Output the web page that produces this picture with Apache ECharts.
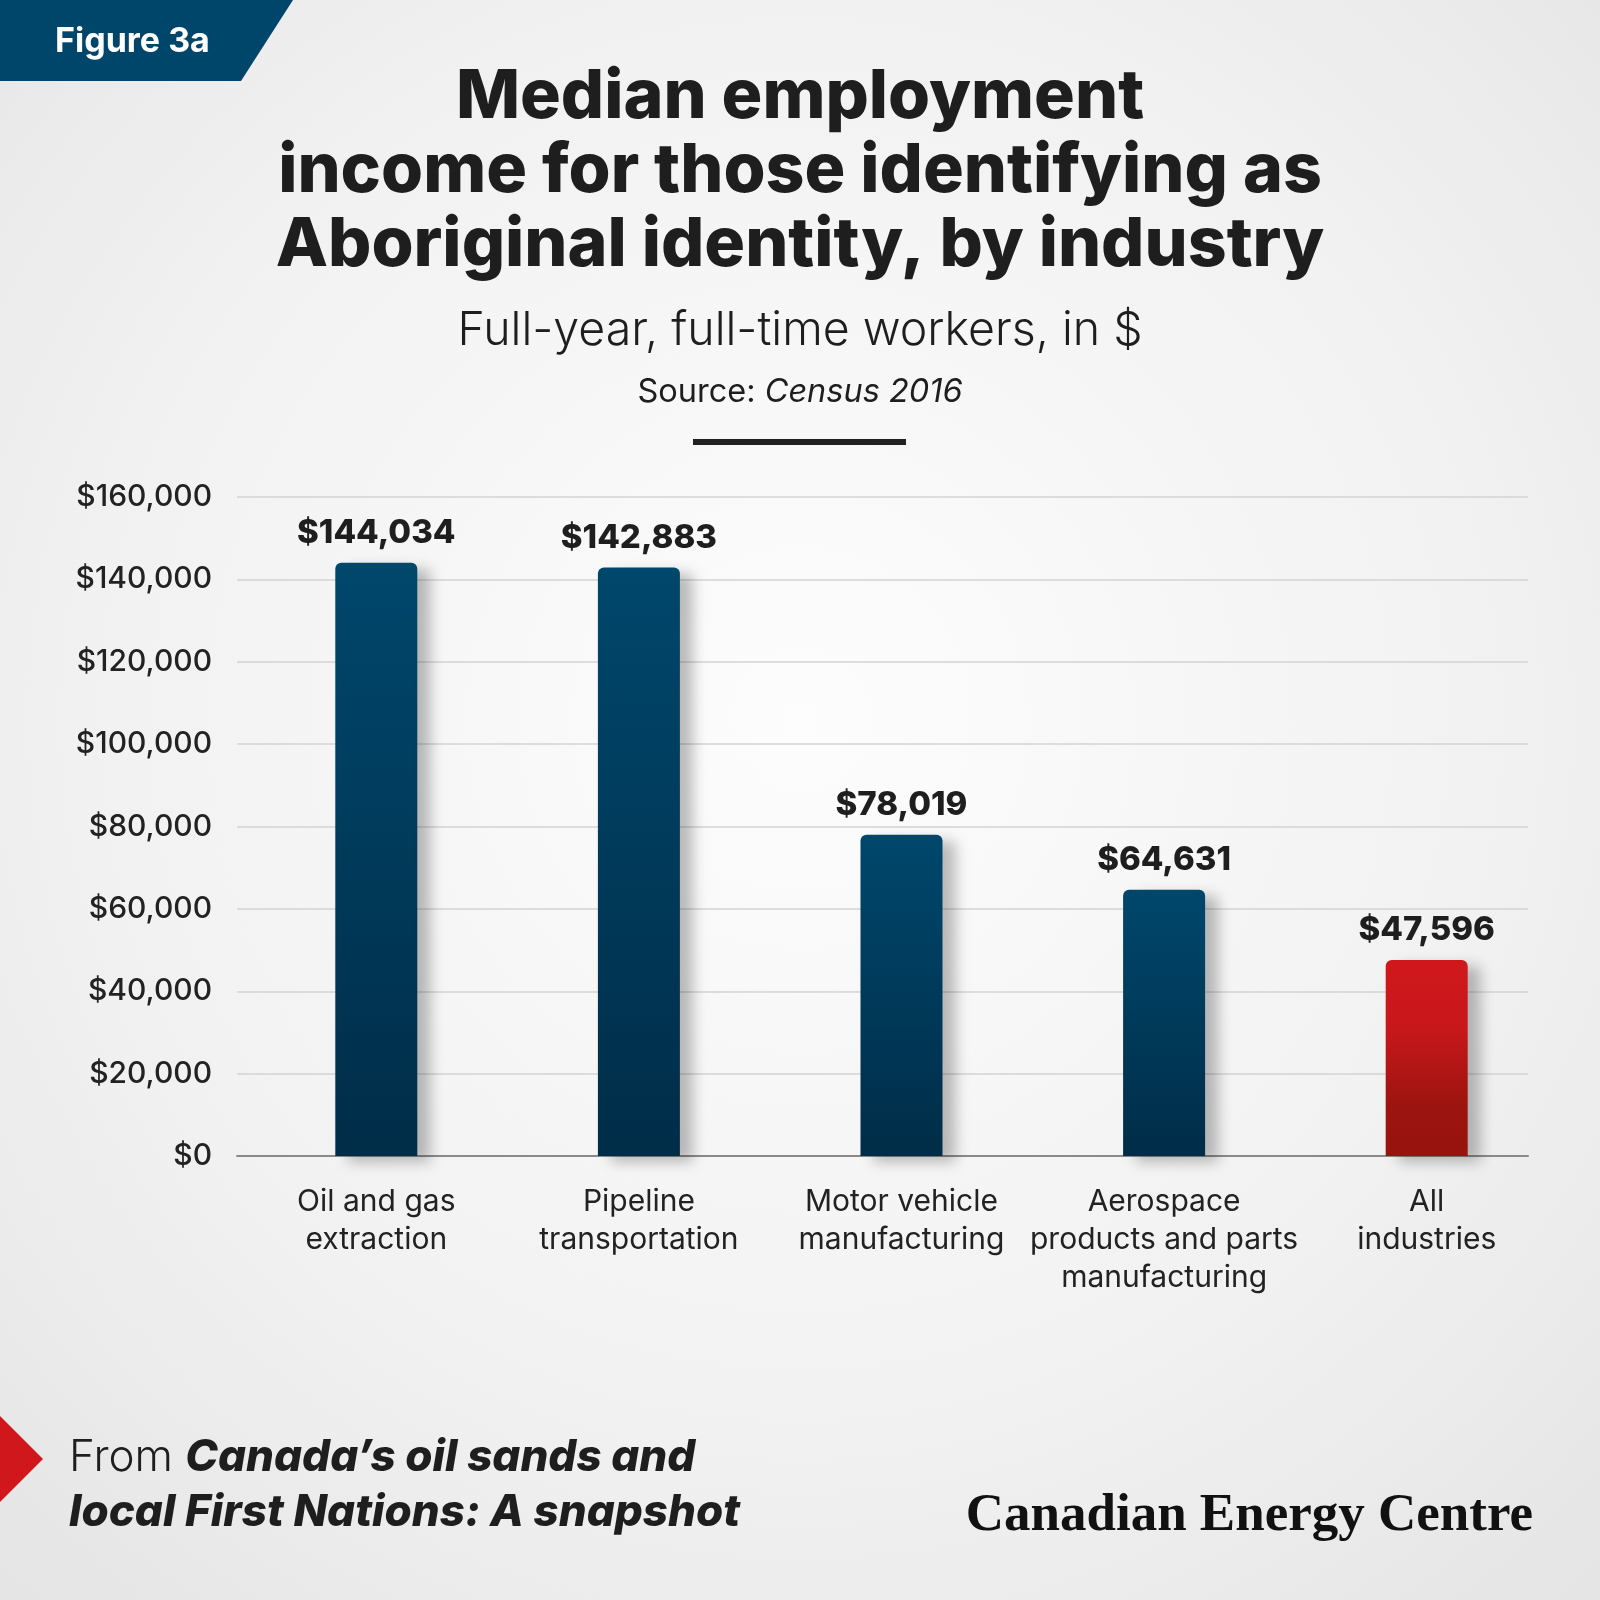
<!DOCTYPE html>
<html>
<head>
<meta charset="utf-8">
<style>
html,body{margin:0;padding:0;background:#eee;}
#c{width:1600px;height:1600px;}
</style>
<script src="https://cdn.jsdelivr.net/npm/echarts@6/dist/echarts.min.js"></script>
</head>
<body>
<div id="c"></div>
<script>
const categories = ['Oil and gas\nextraction', 'Pipeline\ntransportation', 'Motor vehicle\nmanufacturing', 'Aerospace\nproducts and parts\nmanufacturing', 'All\nindustries'];
const values = [144034, 142883, 78019, 64631, 47596];
const highlight = [false, false, false, false, true];
const yMin = 0, yMax = 160000, yStep = 20000;

const FONT = 'Inter, "Noto Sans", sans-serif';
const fmt = v => '$' + v.toLocaleString('en-US');

const blueGrad = {type:'linear',x:0,y:0,x2:0,y2:1,colorStops:[{offset:0,color:'#00476c'},{offset:1,color:'#002d48'}]};
const redGrad = {type:'linear',x:0,y:0,x2:0,y2:1,colorStops:[{offset:0,color:'#d0181c'},{offset:0.35,color:'#c8171b'},{offset:0.75,color:'#9c140f'},{offset:1,color:'#98130e'}]};

const barData = values.map((v,i)=>({
  value: v,
  itemStyle: {color: highlight[i] ? redGrad : blueGrad}
}));

const chart = echarts.init(document.getElementById('c'), null, {renderer:'canvas'});
chart.setOption({
  backgroundColor: {type:'radial',x:0.5,y:0.45,r:0.75,colorStops:[{offset:0,color:'#fdfdfd'},{offset:0.6,color:'#f1f1f1'},{offset:1,color:'#e4e4e4'}]},
  animation:false,
  grid:[
    {left:237,right:72,top:497,bottom:444},
    {left:245,right:42,top:497,bottom:444}
  ],
  xAxis:[
    {type:'category',gridIndex:0,data:categories,axisLabel:{show:false},axisTick:{show:false},
     axisLine:{show:true,lineStyle:{color:'#8a8a8a',width:2}}},
    {type:'category',gridIndex:1,data:categories,axisTick:{show:false},axisLine:{show:false},
     axisLabel:{interval:0,margin:27,fontFamily:FONT,fontSize:30,lineHeight:38,color:'#222',align:'center'}}
  ],
  yAxis:[
    {type:'value',gridIndex:0,min:yMin,max:yMax,interval:yStep,
     axisLabel:{formatter:fmt,fontFamily:FONT,fontSize:30,fontWeight:500,color:'#222',margin:25},
     axisLine:{show:false},axisTick:{show:false},
     splitLine:{lineStyle:{color:'#d3d3d3',width:1.5}}},
    {type:'value',gridIndex:1,min:yMin,max:yMax,interval:yStep,show:false,splitLine:{show:false}}
  ],
  series:[{
    type:'bar',xAxisIndex:1,yAxisIndex:1,data:barData,barWidth:82,
    itemStyle:{borderRadius:[6,6,0,0],shadowColor:'rgba(0,0,0,0.26)',shadowBlur:14,shadowOffsetX:13,shadowOffsetY:6},
    label:{show:true,position:'top',distance:13,formatter:p=>fmt(p.value),fontFamily:FONT,fontWeight:800,fontSize:33,color:'#1e1e1e'}
  }],
  graphic:[
    {type:'polygon',shape:{points:[[0,0],[293,0],[241,81],[0,81]]},style:{fill:'#00466b'}},
    {type:'text',x:55,y:42,style:{text:'Figure 3a',fill:'#fff',font:'700 34px '+FONT,textVerticalAlign:'middle'}},
    {type:'text',x:800,y:61,style:{text:'Median employment\nincome for those identifying as\nAboriginal identity, by industry',
      fill:'#1e1e1e',font:'800 68px '+FONT,lineHeight:74,textAlign:'center',textVerticalAlign:'top'}},
    {type:'text',x:800,y:331,style:{text:'Full-year, full-time workers, in $',fill:'#1e1e1e',font:'300 46.5px '+FONT,textAlign:'center',textVerticalAlign:'middle'}},
    {type:'text',x:800,y:392,style:{text:'{a|Source: }{b|Census 2016}',textAlign:'center',textVerticalAlign:'middle',
      rich:{a:{fontFamily:FONT,fontSize:32.5,fontWeight:400,fill:'#1e1e1e',color:'#1e1e1e'},b:{fontFamily:FONT,fontSize:32.5,fontWeight:400,fontStyle:'italic',fill:'#1e1e1e',color:'#1e1e1e'}}}},
    {type:'rect',shape:{x:693,y:439,width:213,height:6},style:{fill:'#222'}},
    {type:'polygon',shape:{points:[[0,1416],[43,1459],[0,1502]]},style:{fill:'#d0181c'}},
    {type:'text',x:69,y:1485,style:{text:'{a|From }{b|Canada’s oil sands and}\n{b|local First Nations: A snapshot}',textVerticalAlign:'middle',
      rich:{a:{fontFamily:FONT,fontSize:44,fontWeight:300,lineHeight:55,fill:'#1e1e1e',color:'#1e1e1e'},b:{fontFamily:FONT,fontSize:44,fontWeight:800,fontStyle:'italic',lineHeight:55,fill:'#1e1e1e',color:'#1e1e1e'}}}},
    {type:'text',x:1533,y:1516,style:{text:'Canadian Energy Centre',fill:'#111',font:'700 53px "Liberation Serif", serif',textAlign:'right',textVerticalAlign:'middle'}}
  ]
});
</script>
</body>
</html>
